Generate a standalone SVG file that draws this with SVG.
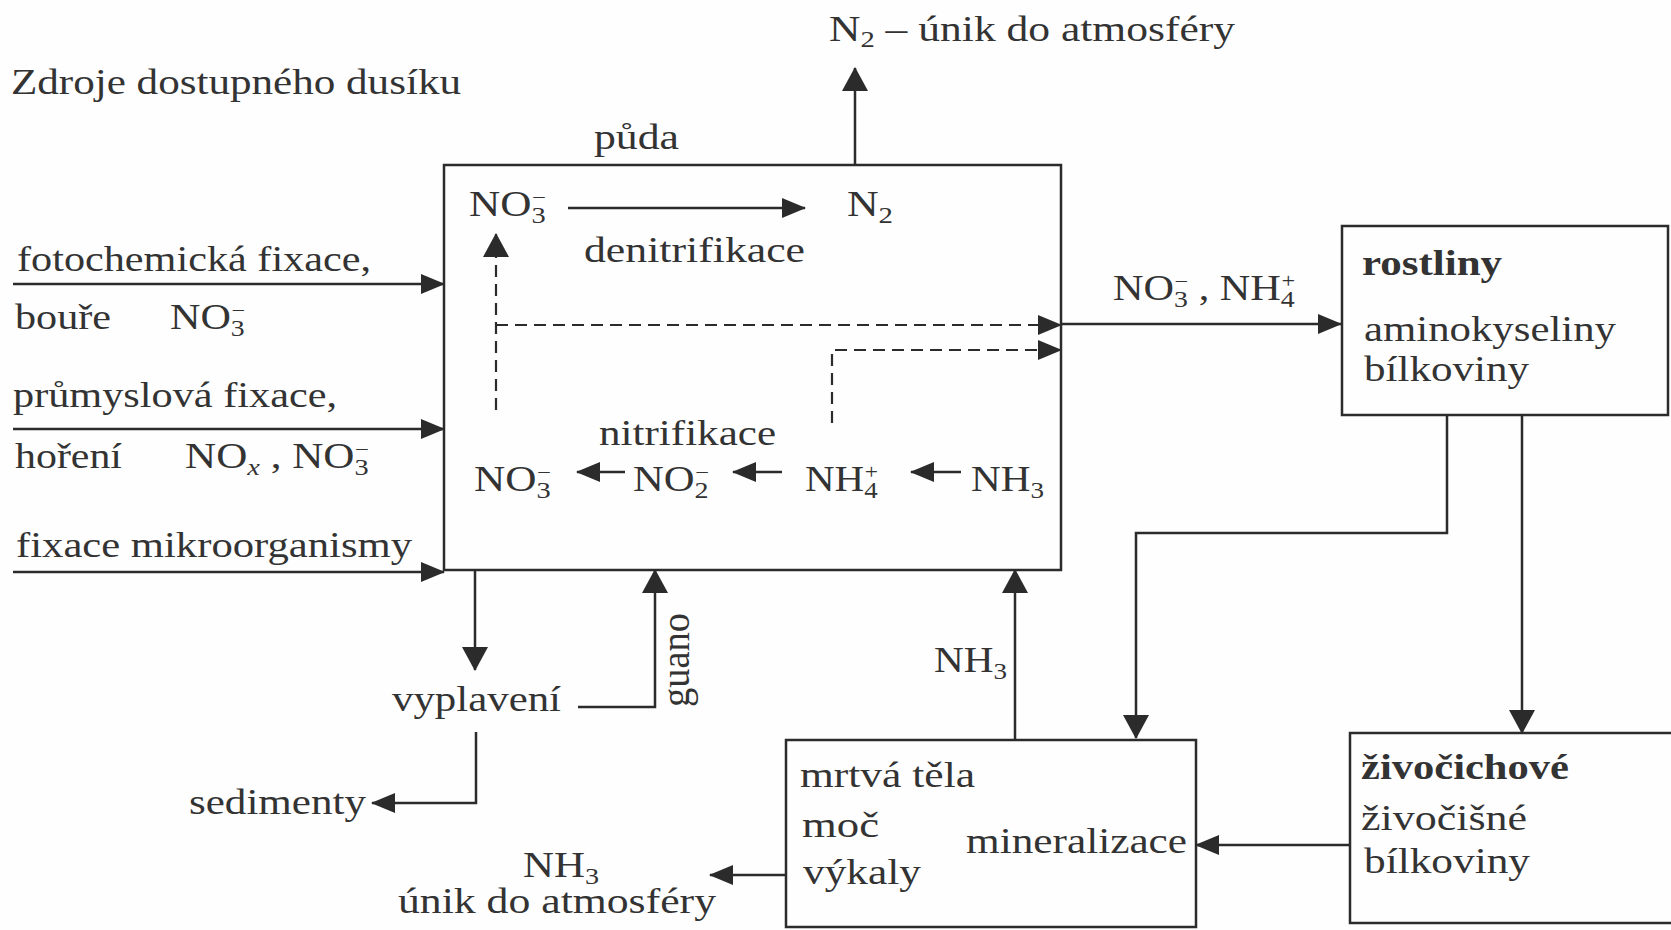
<svg xmlns="http://www.w3.org/2000/svg" width="1671" height="930" viewBox="0 0 1671 930">
<style>
text{font-family:"Liberation Serif","Times New Roman",serif;font-size:35px;fill:#333}
.b{font-weight:bold}
.sub{font-size:23px}
.sup{font-size:20px}
.box{fill:none;stroke:#2b2b2b;stroke-width:2.5}
.ln{fill:none;stroke:#2b2b2b;stroke-width:2.5}
.dash{fill:none;stroke:#2b2b2b;stroke-width:2.2;stroke-dasharray:12 7}
.ah{marker-end:url(#ah)}
.av{marker-end:url(#av)}
</style>
<defs>
<marker id="ah" viewBox="0 0 24 20" refX="23" refY="10" markerWidth="24" markerHeight="20" markerUnits="userSpaceOnUse" orient="auto"><path d="M0,0 L24,10 L0,20 z" fill="#2b2b2b"/></marker>
<marker id="av" viewBox="0 0 24 26" refX="23" refY="13" markerWidth="24" markerHeight="26" markerUnits="userSpaceOnUse" orient="auto"><path d="M0,0 L24,13 L0,26 z" fill="#2b2b2b"/></marker>
</defs>
<rect width="1671" height="930" fill="#fefefe"/>

<g id="connectors">
<line class="ln av" x1="855" y1="165" x2="855" y2="68"/>
<line class="ln ah" x1="13" y1="284" x2="444" y2="284"/>
<line class="ln ah" x1="13" y1="429" x2="444" y2="429"/>
<line class="ln ah" x1="13" y1="572" x2="444" y2="572"/>
<line class="ln ah" x1="568" y1="208" x2="805" y2="208"/>
<path class="dash av" d="M496,410 V234"/>
<path class="dash ah" d="M496,325 H1061"/>
<path class="dash ah" d="M832,423 V350 H1061"/>
<line class="ln ah" x1="625" y1="472" x2="577" y2="472"/>
<line class="ln ah" x1="782" y1="472" x2="733" y2="472"/>
<line class="ln ah" x1="961" y1="472" x2="911" y2="472"/>
<line class="ln ah" x1="1061" y1="324" x2="1341" y2="324"/>
<path class="ln av" d="M1447,415 V533 H1136 V738"/>
<path class="ln av" d="M1522,415 V733"/>
<line class="ln ah" x1="1350" y1="845" x2="1196" y2="845"/>
<line class="ln av" x1="1015" y1="740" x2="1015" y2="570"/>
<line class="ln ah" x1="786" y1="875" x2="710" y2="875"/>
<line class="ln av" x1="475" y1="570" x2="475" y2="670"/>
<path class="ln av" d="M578,707 H655 V570"/>
<path class="ln ah" d="M476,732 V803 H372"/>
</g>

<g id="labels">
<text x="11" y="94" textLength="450" lengthAdjust="spacingAndGlyphs">Zdroje dostupného dusíku</text>
<text x="829" y="41" textLength="406" lengthAdjust="spacingAndGlyphs">N<tspan class="sub" dy="6">2</tspan><tspan dy="-6"> – únik do atmosféry</tspan></text>
<text x="594" y="149" textLength="85" lengthAdjust="spacingAndGlyphs">půda</text>
<text x="17" y="271" textLength="354" lengthAdjust="spacingAndGlyphs">fotochemická fixace,</text>
<text x="15" y="329" textLength="96" lengthAdjust="spacingAndGlyphs">bouře</text>
<text x="170" y="329" textLength="75" lengthAdjust="spacingAndGlyphs">NO<tspan class="sub" dy="7">3</tspan><tspan class="sup" dx="-11" dy="-19">−</tspan></text>
<text x="13" y="407" textLength="324" lengthAdjust="spacingAndGlyphs">průmyslová fixace,</text>
<text x="15" y="468" textLength="107" lengthAdjust="spacingAndGlyphs">hoření</text>
<text x="185" y="468" textLength="184" lengthAdjust="spacingAndGlyphs">NO<tspan class="sub" dy="7" font-style="italic">x</tspan><tspan dy="-7"> , NO</tspan><tspan class="sub" dy="7">3</tspan><tspan class="sup" dx="-11" dy="-19">−</tspan></text>
<text x="16" y="557" textLength="396" lengthAdjust="spacingAndGlyphs">fixace mikroorganismy</text>
<text x="1113" y="300" textLength="182" lengthAdjust="spacingAndGlyphs">NO<tspan class="sub" dy="7">3</tspan><tspan class="sup" dx="-11" dy="-19">−</tspan><tspan dy="12"> , NH</tspan><tspan class="sub" dy="7">4</tspan><tspan class="sup" dx="-11" dy="-19">+</tspan></text>
<text x="934" y="672" textLength="73" lengthAdjust="spacingAndGlyphs">NH<tspan class="sub" dy="7">3</tspan></text>
<text x="392" y="711" textLength="169" lengthAdjust="spacingAndGlyphs">vyplavení</text>
<text transform="translate(689,707) rotate(-90) scale(1,1.15)" textLength="94" lengthAdjust="spacingAndGlyphs">guano</text>
<text x="189" y="814" textLength="177" lengthAdjust="spacingAndGlyphs">sedimenty</text>
<text x="523" y="877" textLength="76" lengthAdjust="spacingAndGlyphs">NH<tspan class="sub" dy="7">3</tspan></text>
<text x="398" y="913" textLength="318" lengthAdjust="spacingAndGlyphs">únik do atmosféry</text>
</g>

<g id="puda">
<rect class="box" x="444" y="165" width="617" height="405"/>
<text x="469" y="216" textLength="77" lengthAdjust="spacingAndGlyphs">NO<tspan class="sub" dy="7">3</tspan><tspan class="sup" dx="-11" dy="-19">−</tspan></text>
<text x="847" y="216" textLength="46" lengthAdjust="spacingAndGlyphs">N<tspan class="sub" dy="7">2</tspan></text>
<text x="584" y="262" textLength="221" lengthAdjust="spacingAndGlyphs">denitrifikace</text>
<text x="599" y="445" textLength="177" lengthAdjust="spacingAndGlyphs">nitrifikace</text>
<text x="474" y="491" textLength="77" lengthAdjust="spacingAndGlyphs">NO<tspan class="sub" dy="7">3</tspan><tspan class="sup" dx="-11" dy="-19">−</tspan></text>
<text x="633" y="491" textLength="76" lengthAdjust="spacingAndGlyphs">NO<tspan class="sub" dy="7">2</tspan><tspan class="sup" dx="-11" dy="-19">−</tspan></text>
<text x="805" y="491" textLength="73" lengthAdjust="spacingAndGlyphs">NH<tspan class="sub" dy="7">4</tspan><tspan class="sup" dx="-11" dy="-19">+</tspan></text>
<text x="971" y="491" textLength="73" lengthAdjust="spacingAndGlyphs">NH<tspan class="sub" dy="7">3</tspan></text>
</g>

<g id="rostliny">
<rect class="box" x="1342" y="226" width="326" height="189"/>
<text class="b" x="1362" y="275" textLength="140" lengthAdjust="spacingAndGlyphs">rostliny</text>
<text x="1364" y="341" textLength="252" lengthAdjust="spacingAndGlyphs">aminokyseliny</text>
<text x="1364" y="381" textLength="165" lengthAdjust="spacingAndGlyphs">bílkoviny</text>
</g>

<g id="zivocichove">
<path class="box" d="M1680,733 H1350 V923 H1680"/>
<text class="b" x="1361" y="779" textLength="208" lengthAdjust="spacingAndGlyphs">živočichové</text>
<text x="1361" y="830" textLength="166" lengthAdjust="spacingAndGlyphs">živočišné</text>
<text x="1364" y="873" textLength="166" lengthAdjust="spacingAndGlyphs">bílkoviny</text>
</g>

<g id="mrtva-tela">
<rect class="box" x="786" y="740" width="410" height="187"/>
<text x="800" y="787" textLength="175" lengthAdjust="spacingAndGlyphs">mrtvá těla</text>
<text x="802" y="837" textLength="77" lengthAdjust="spacingAndGlyphs">moč</text>
<text x="803" y="884" textLength="118" lengthAdjust="spacingAndGlyphs">výkaly</text>
<text x="966" y="853" textLength="221" lengthAdjust="spacingAndGlyphs">mineralizace</text>
</g>
</svg>
